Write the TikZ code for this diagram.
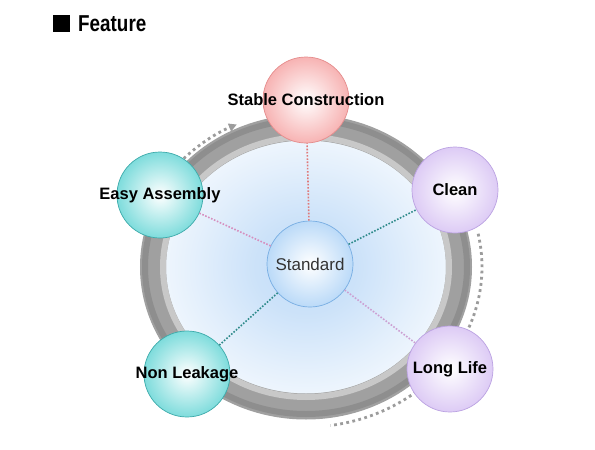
\documentclass[tikz,border=0pt]{standalone}
\usepackage{fontspec}
\setmainfont{Liberation Sans}
\usepackage{graphicx}
\usetikzlibrary{arrows.meta}

\definecolor{ring_base}{HTML}{A0A0A0}
\definecolor{ring_dark}{HTML}{8E8E8E}
\definecolor{ring_light}{HTML}{C8C8C8}
\definecolor{glow_blue}{HTML}{C3DDF8}
\definecolor{pink_out}{HTML}{F7B3B3}
\definecolor{pink_line}{HTML}{E58C8C}
\definecolor{teal_out}{HTML}{7EDCDC}
\definecolor{teal_line}{HTML}{3CAAAA}
\definecolor{lilac_out}{HTML}{DDCBF5}
\definecolor{lilac_line}{HTML}{BBA2E2}
\definecolor{std_out}{HTML}{BBDAF8}
\definecolor{std_line}{HTML}{78AEE3}
\definecolor{dot_red}{HTML}{E07878}
\definecolor{dot_pink}{HTML}{D68EBE}
\definecolor{dot_teal}{HTML}{2E8A8A}
\definecolor{dot_lilac}{HTML}{CC9FD2}
\definecolor{dot_gray}{HTML}{9C9C9C}

\pgfdeclareradialshading{ring_glow}{\pgfpoint{0bp}{0bp}}{%
  color(0bp)=(glow_blue); color(9bp)=(glow_blue!85!white);
  color(20bp)=(glow_blue!45!white); color(30bp)=(glow_blue!12!white);
  color(36bp)=(white); color(50bp)=(white)}

\newcommand{\ballfont}{\fontsize{16.5}{18}\selectfont\bfseries}

\begin{document}
\begin{tikzpicture}[x=1pt, y=-1pt]
  \tikzset{
    ball/.style={circle, minimum size=86pt, inner sep=0pt, line width=0.7pt,
      shading=radial, inner color=white},
    inner_link/.style={line width=1.6pt, dash pattern=on 1.6pt off 1.6pt},
    gray_dots/.style={dot_gray, line width=2.8pt, dash pattern=on 2.8pt off 3.4pt}
  }
  \useasboundingbox (0,0) rectangle (595,450);

  % title
  \node (title_box) [fill=black, minimum width=17pt, minimum height=17pt,
    inner sep=0pt, anchor=north west] at (53,15) {};
  \node (title) [anchor=base west, inner sep=0pt,
    font=\fontsize{23}{23}\selectfont\bfseries] at (78,31) {\scalebox{0.82}[1]{Feature}};

  % blue glow inside ring
  \shade[shading=ring_glow] (306,267) ellipse [x radius=141, y radius=128];

  % ring
  \draw[ring_base, line width=26pt] (306,267) ellipse [x radius=153, y radius=139.5];
  \draw[ring_dark, line width=6pt] (306,267) ellipse [x radius=161, y radius=147];
  \draw[ring_light, line width=6pt] (306,267) ellipse [x radius=143, y radius=130];

  % gray dotted arrows
  \draw[gray_dots, -{Triangle[length=8pt, width=8pt]}] (306,267) ++(224:170 and 156)
    arc[start angle=224, end angle=246, x radius=170, y radius=156];
  \draw[gray_dots] (306,267) ++(-12:176 and 160)
    arc[start angle=-12, end angle=82, x radius=176, y radius=160];

  % feature balls
  \node (std) [ball, outer color=std_out, draw=std_line,
    label={[name=std_txt, font=\fontsize{17}{18}\selectfont, text=black!80]center:Standard}]
    at (310,264) {};
  \node (stable) [ball, outer color=pink_out, draw=pink_line,
    label={[name=stable_txt, font=\ballfont]center:Stable Construction}] at (306,100) {};
  \node (easy) [ball, outer color=teal_out, draw=teal_line,
    label={[name=easy_txt, font=\ballfont]center:Easy Assembly}] at (160,195) {};
  \node (clean) [ball, outer color=lilac_out, draw=lilac_line,
    label={[name=clean_txt, font=\ballfont]center:Clean}] at (455,190) {};
  \node (leak) [ball, outer color=teal_out, draw=teal_line,
    label={[name=leak_txt, font=\ballfont]center:Non Leakage}] at (187,374) {};
  \node (life) [ball, outer color=lilac_out, draw=lilac_line,
    label={[name=life_txt, font=\ballfont]center:Long Life}] at (450,369) {};

  % links from the centre
  \draw[inner_link, dot_red] (std) -- (stable);
  \draw[inner_link, dot_pink] (std) -- (easy);
  \draw[inner_link, dot_teal] (std) -- (clean);
  \draw[inner_link, dot_teal] (std) -- (leak);
  \draw[inner_link, dot_lilac] (std) -- (life);
\end{tikzpicture}
\end{document}
